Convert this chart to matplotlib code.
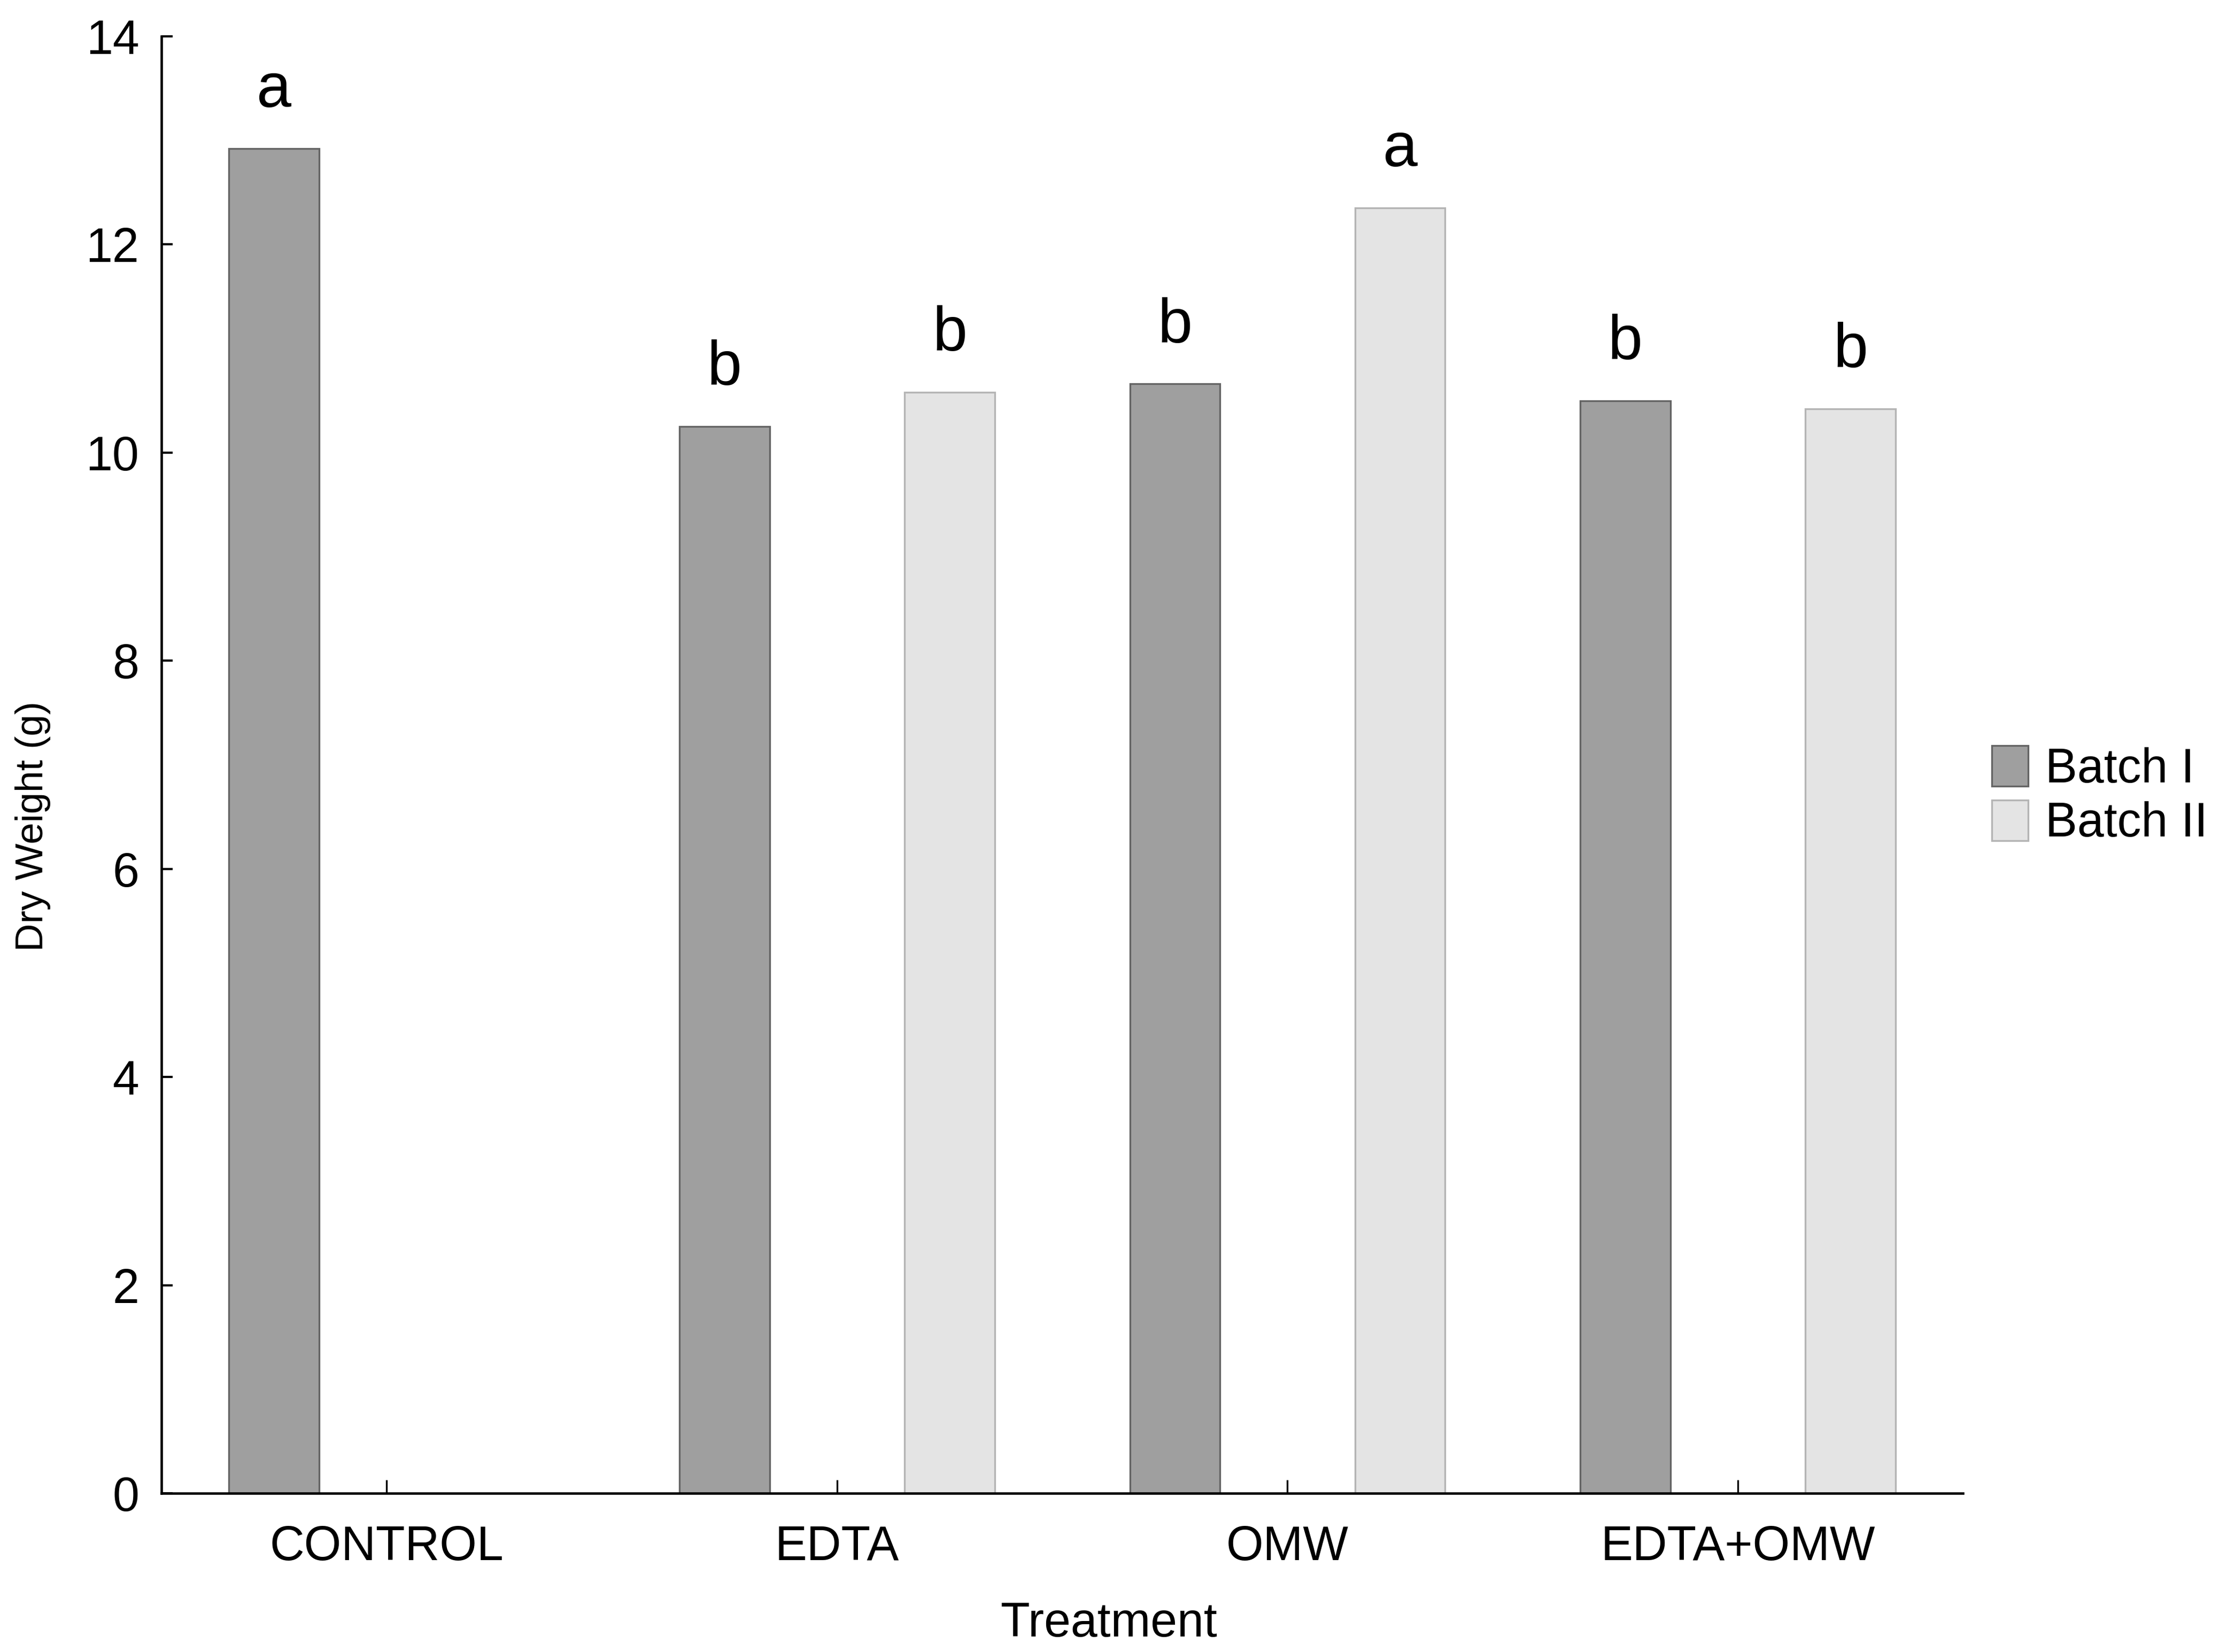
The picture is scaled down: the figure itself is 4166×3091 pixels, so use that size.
import matplotlib
matplotlib.use("Agg")
import matplotlib.pyplot as plt
import numpy as np

plt.rcParams['font.family'] = ['Liberation Sans', 'DejaVu Sans']

treatments = ["CONTROL", "EDTA", "OMW", "EDTA+OMW"]
batch1 = [12.92, 10.25, 10.66, 10.50]
batch2 = [np.nan, 10.58, 12.35, 10.42]
letters1 = ["a", "b", "b", "b"]
letters2 = ["", "b", "a", "b"]
series_names = ["Batch I", "Batch II"]
yticks = [0, 2, 4, 6, 8, 10, 12, 14]

fig = plt.figure(figsize=(4166/300, 3091/300), dpi=300)
ax = fig.add_axes([0.0725, 0.096, 0.809, 0.882])

x = np.arange(len(treatments))
w = 0.2
off = 0.25
b1 = ax.bar(x - off, batch1, width=w, color='#9f9f9f', edgecolor='#646464', linewidth=0.8, label=series_names[0])
b2 = ax.bar(x + off, batch2, width=w, color='#e4e4e4', edgecolor='#b4b4b4', linewidth=0.8, label=series_names[1])

for xi, v, t in zip(x - off, batch1, letters1):
    if t and not np.isnan(v):
        ax.text(xi, v + 0.4, t, ha='center', va='baseline', fontsize=28)
for xi, v, t in zip(x + off, batch2, letters2):
    if t and not np.isnan(v):
        ax.text(xi, v + 0.4, t, ha='center', va='baseline', fontsize=28)

ax.set_xlim(-0.5, 3.5)
ax.set_ylim(0, 14)
ax.set_yticks(yticks)
ax.set_xticks(x)
ax.set_xticklabels(treatments)
ax.spines['top'].set_visible(False)
ax.spines['right'].set_visible(False)
ax.spines['left'].set_linewidth(1.1)
ax.spines['bottom'].set_linewidth(1.1)
ax.tick_params(axis='y', direction='in', length=5, width=1.0, labelsize=21.5, pad=10)
ax.tick_params(axis='x', direction='in', length=6, width=0.8, labelsize=21.5, pad=14)

fig.text(0.0147, 0.50, "Dry Weight (g)", rotation=90, ha='center', va='center', fontsize=17.5)
fig.text(0.498, 0.017, "Treatment", ha='center', va='center', fontsize=21.5)

leg = fig.legend(handles=[b1, b2], labels=series_names, loc='center left',
                 bbox_to_anchor=(0.8945, 0.518), frameon=False, fontsize=21.5,
                 handlelength=0.75, handleheight=0.93, handletextpad=0.36,
                 labelspacing=0.15, borderpad=0, borderaxespad=0)

fig.savefig("out.png", dpi=300)
